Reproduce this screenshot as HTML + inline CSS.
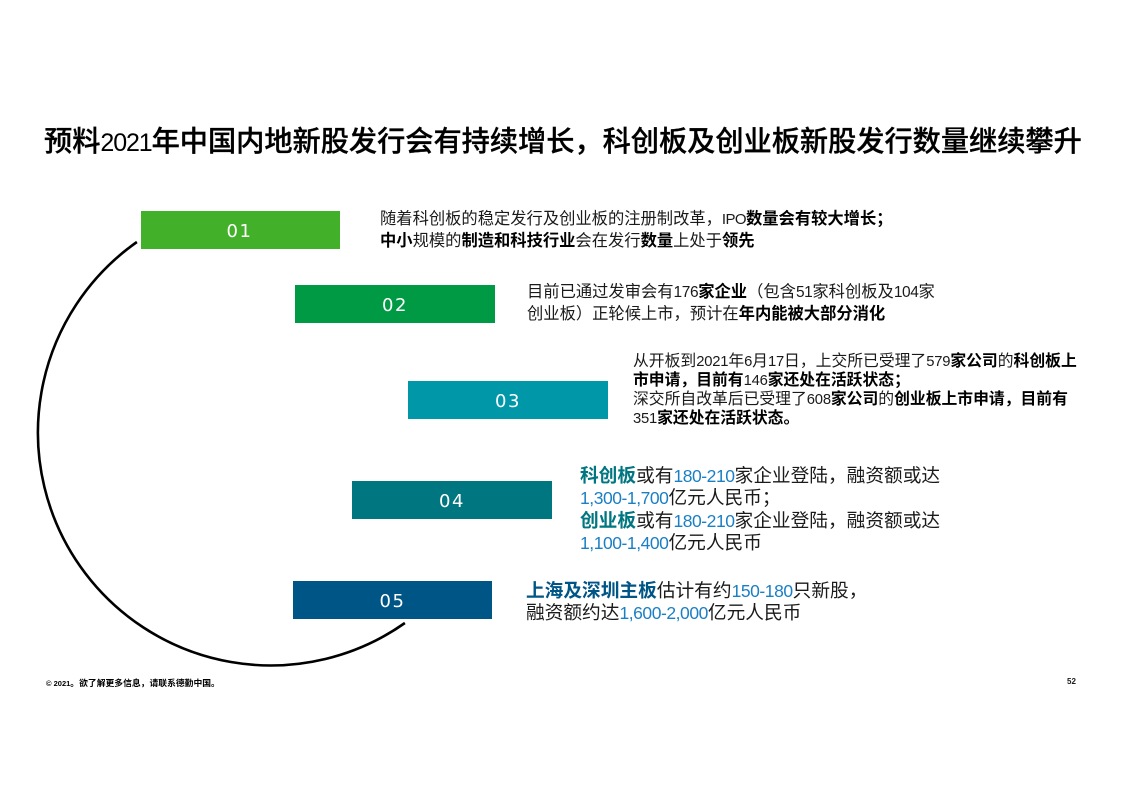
<!DOCTYPE html>
<html lang="zh">
<head>
<meta charset="utf-8">
<style>
html,body{margin:0;padding:0;background:#fff;}
#p{position:relative;width:1122px;height:793px;overflow:hidden;background:#fff;font-family:"Liberation Sans","Noto Sans CJK SC",sans-serif;color:#1a1a1a;}
.t{position:absolute;white-space:nowrap;}
.b{position:absolute;width:199px;height:38px;box-sizing:border-box;padding-top:2px;padding-right:0;color:#fff;font-family:"DejaVu Sans",sans-serif;font-size:18px;line-height:38px;text-align:center;letter-spacing:1.5px;}
b{font-weight:700;color:#000;}
i{font-style:normal;line-height:0;}
.l{color:#1a7fc4;}
.g{color:#007680;font-weight:700;}
.n{color:#005587;font-weight:700;}
.s1{font-size:16.3px;line-height:22px;}
.s1 i{font-size:15.5px;letter-spacing:-.4px;}
.s3{font-size:15.8px;line-height:19px;}
.s3 i{font-size:14.8px;letter-spacing:-.2px;}
.s4{font-size:18.7px;line-height:22.4px;}
.s4 i{font-size:17.5px;letter-spacing:-.45px;}
</style>
</head>
<body>
<div id="p">
<svg style="position:absolute;left:0;top:0" width="1122" height="793">
<path d="M137.7 242 A232.5 232.5 0 1 0 405.7 623" fill="none" stroke="#000" stroke-width="2.6" transform="translate(-.8 0)"/>
</svg>
<div class="t" style="left:44px;top:122px;font-size:28.2px;line-height:38px;font-weight:500;color:#000;-webkit-text-stroke:.3px #000;">预料<i style="font-size:25px;letter-spacing:-1.1px;-webkit-text-stroke:0;">2021</i>年中国内地新股发行会有持续增长&#65292;科创板及创业板新股发行数量继续攀升</div>

<div class="b" style="left:141px;top:211px;padding-right:2px;background:#43b02a;">01</div>
<div class="b" style="left:295px;top:285px;width:200px;background:#009a44;">02</div>
<div class="b" style="left:408px;top:381px;width:200px;background:#0097a9;">03</div>
<div class="b" style="left:352px;top:481px;width:200px;background:#007680;">04</div>
<div class="b" style="left:293px;top:581px;background:#005587;">05</div>

<div class="t s1" style="left:380px;top:208px;">随着科创板的稳定发行及创业板的注册制改革&#65292;<i style="font-size:15px;letter-spacing:-.6px;">IPO</i><b>数量会有较大增长&#65307;</b><br><b>中小</b>规模的<b>制造和科技行业</b>会在发行<b>数量</b>上处于<b>领先</b></div>
<div class="t s1" style="left:527px;top:281px;">目前已通过发审会有<i>176</i><b>家企业</b>&#65288;包含<i>51</i>家科创板及<i>104</i>家<br>创业板&#65289;正轮候上市&#65292;预计在<b>年内能被大部分消化</b></div>
<div class="t s3" style="left:633px;top:352px;">从开板到<i>2021</i>年<i>6</i>月<i>17</i>日&#65292;上交所已受理了<i>579</i><b>家公司</b>的<b>科创板上</b><br><b>市申请&#65292;目前有</b><i>146</i><b>家还处在活跃状态&#65307;</b><br>深交所自改革后已受理了<i>608</i><b>家公司</b>的<b>创业板上市申请&#65292;目前有</b><br><i>351</i><b>家还处在活跃状态。</b></div>
<div class="t s4" style="left:580px;top:465px;"><span class="g">科创板</span>或有<i class="l">180-210</i>家企业登陆&#65292;融资额或达<br><i class="l">1,300-1,700</i>亿元人民币&#65307;<br><span class="g">创业板</span>或有<i class="l">180-210</i>家企业登陆&#65292;融资额或达<br><i class="l">1,100-1,400</i>亿元人民币</div>
<div class="t s4" style="left:526px;top:580px;"><span class="n">上海及深圳主板</span>估计有约<i class="l">150-180</i>只新股&#65292;<br>融资额约达<i class="l">1,600-2,000</i>亿元人民币</div>

<div class="t" style="left:46px;top:678px;font-size:8.8px;line-height:11px;font-weight:700;color:#000;"><span style="font-size:7.5px;">© 2021</span>。欲了解更多信息&#65292;请联系德勤中国。</div>
<div class="t" style="left:1067px;top:676px;font-size:8px;line-height:11px;font-weight:700;color:#1a1a1a;">52</div>
</div>
</body>
</html>
